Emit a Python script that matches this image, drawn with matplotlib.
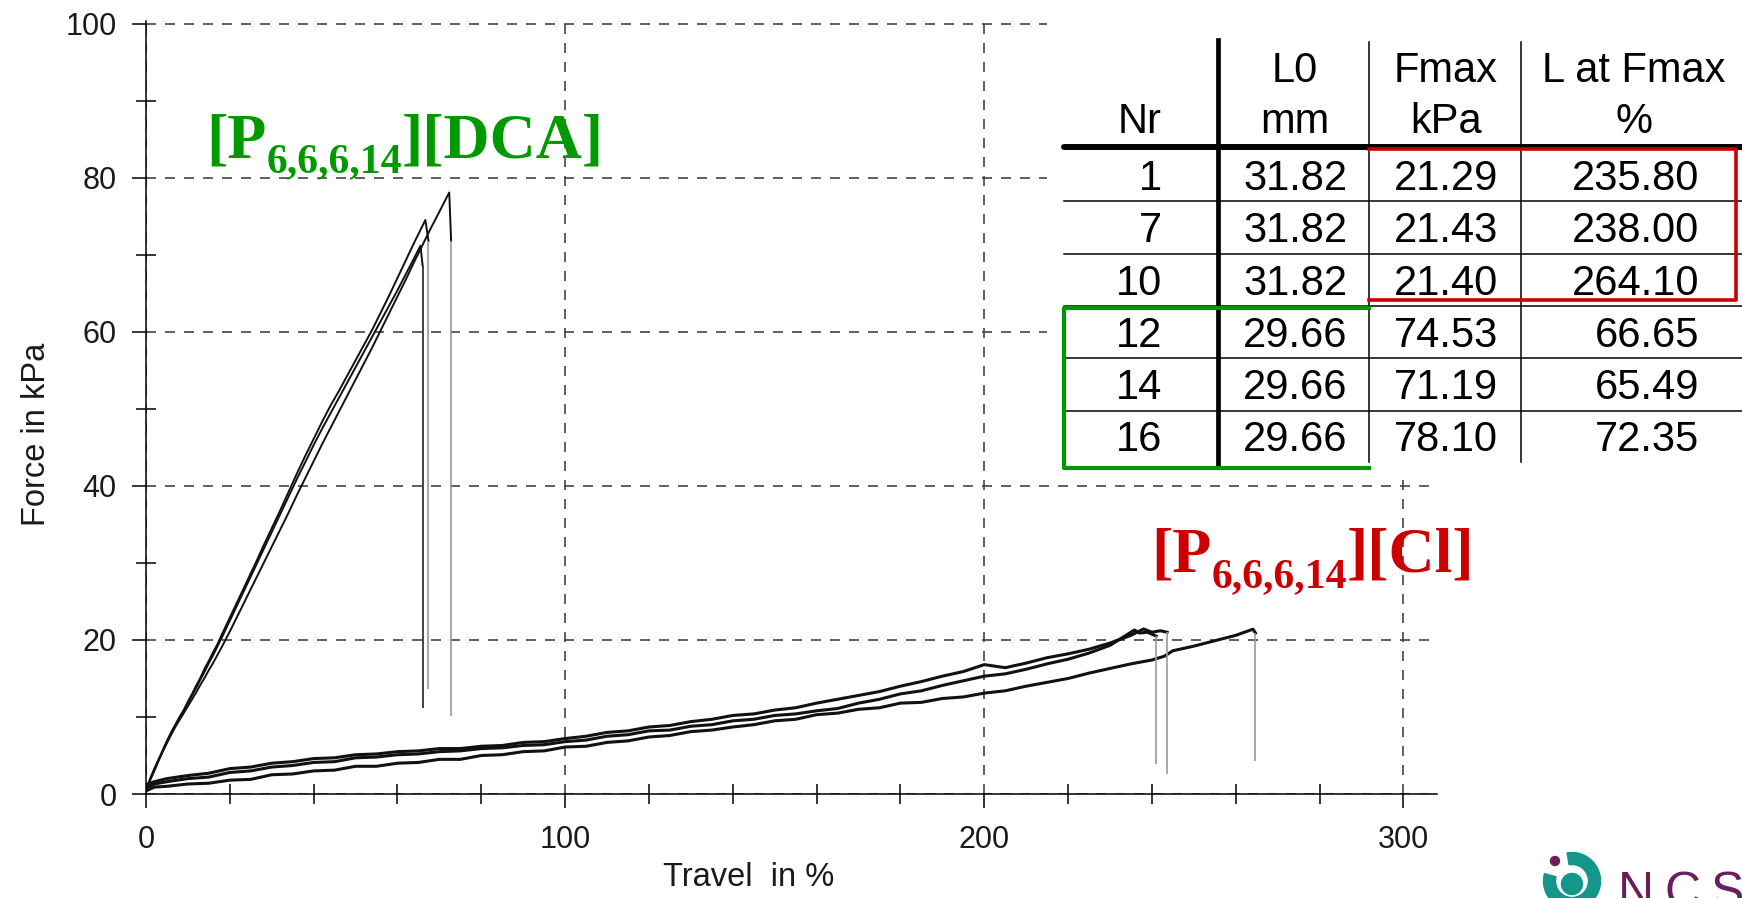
import matplotlib
matplotlib.use('Agg')
import matplotlib.pyplot as plt
from matplotlib.ticker import MultipleLocator
from matplotlib.patches import Rectangle, Circle, Wedge

plt.rcParams['font.family'] = ['Liberation Sans', 'DejaVu Sans']

# table of results
nr = [1, 7, 10, 12, 14, 16]
l0_mm = [31.82, 31.82, 31.82, 29.66, 29.66, 29.66]
fmax_kpa = [21.29, 21.43, 21.40, 74.53, 71.19, 78.10]
l_at_fmax = [235.80, 238.00, 264.10, 66.65, 65.49, 72.35]

# [P6,6,6,14][DCA] samples 12, 14, 16
dca12_x = [0, 1, 2, 3, 4, 5, 6, 7, 8, 9, 10, 11, 12, 13, 14, 15, 16, 17, 18, 20, 22, 24, 26, 28, 30,
           32, 34, 36, 38, 40, 42, 44, 46, 48, 50, 52, 54, 56, 58, 60, 62, 64, 66, 66.65, 67.4]
dca12_y = [0.4, 1.9, 3.2, 4.4, 5.7, 6.9, 8.0, 9.0, 10.0, 10.9, 12.0, 13.0, 14.1, 15.1, 16.3, 17.3, 18.4,
           19.4, 20.6, 22.9, 25.2, 27.5, 29.8, 32.2, 34.5, 36.8, 39.2, 41.6, 43.9, 46.1, 48.3, 50.4, 52.3,
           54.3, 56.3, 58.3, 60.3, 62.5, 64.7, 67.0, 69.3, 71.6, 73.8, 74.53, 71.8]
dca14_x = [0, 1, 2, 3, 4, 5, 6, 7, 8, 9, 10, 11, 12, 13, 14, 15, 16, 17, 18, 20, 22, 24, 26, 28, 30,
           32, 34, 36, 38, 40, 42, 44, 46, 48, 50, 52, 54, 56, 58, 60, 62, 64, 65.49, 66.0]
dca14_y = [0.6, 2.0, 3.3, 4.5, 5.6, 6.8, 7.9, 8.9, 9.9, 10.8, 11.8, 12.8, 13.8, 14.9, 15.9, 17.0, 18.0,
           19.1, 20.2, 22.5, 24.8, 27.1, 29.4, 31.7, 34.0, 36.3, 38.6, 40.9, 43.1, 45.3, 47.4, 49.4, 51.4,
           53.4, 55.4, 57.4, 59.4, 61.4, 63.4, 65.4, 67.5, 69.6, 71.19, 68.6]
dca16_x = [0, 1, 2, 3, 4, 5, 6, 7, 8, 9, 10, 11, 12, 13, 14, 15, 16, 17, 18, 20, 22, 24, 26, 28, 30,
           32, 34, 36, 38, 40, 42, 44, 46, 48, 50, 52, 54, 56, 58, 60, 62, 64, 66, 68, 70, 72.35, 72.8]
dca16_y = [0.5, 1.8, 3.0, 4.3, 5.5, 6.6, 7.7, 8.7, 9.6, 10.5, 11.4, 12.3, 13.2, 14.2, 15.1, 16.1, 17.0,
           18.0, 19.0, 21.1, 23.3, 25.5, 27.7, 29.9, 32.1, 34.3, 36.5, 38.8, 41.0, 43.2, 45.4, 47.5, 49.6,
           51.7, 53.8, 55.9, 58.0, 60.2, 62.4, 64.6, 66.8, 69.1, 71.3, 73.5, 75.6, 78.10, 71.8]

# [P6,6,6,14][Cl] samples 1, 7, 10
cl_x = [0, 2, 5, 10, 15, 20, 25, 30, 35, 40, 45, 50, 55, 60, 65, 70, 75, 80, 85, 90, 95, 100,
        105, 110, 115, 120, 125, 130, 135, 140, 145, 150, 155, 160, 165, 170, 175, 180, 185, 190,
        195, 200, 205, 210, 215, 220, 225, 230]
cl1_y = [0.8, 1.3, 1.6, 2.0, 2.2, 2.8, 3.0, 3.5, 3.7, 4.1, 4.2, 4.7, 4.8, 5.1, 5.2, 5.5, 5.6, 5.9,
         6.0, 6.3, 6.4, 6.8, 7.0, 7.5, 7.7, 8.2, 8.3, 8.8, 9.0, 9.5, 9.7, 10.2, 10.4, 10.8, 11.1,
         11.8, 12.3, 13.0, 13.4, 14.1, 14.7, 15.3, 15.6, 16.2, 16.9, 17.5, 18.3, 19.3]
cl1_tail_x = [235.8, 237, 239, 241.0]
cl1_tail_y = [21.29, 20.9, 21.0, 20.5]
cl7_y = [1.2, 1.6, 2.0, 2.4, 2.7, 3.3, 3.5, 4.0, 4.2, 4.6, 4.7, 5.1, 5.2, 5.5, 5.6, 5.9, 5.9, 6.2,
         6.3, 6.7, 6.8, 7.2, 7.5, 8.0, 8.2, 8.7, 8.9, 9.4, 9.7, 10.2, 10.4, 10.9, 11.2, 11.8, 12.3,
         12.8, 13.3, 14.0, 14.6, 15.3, 15.9, 16.8, 16.4, 17.0, 17.7, 18.2, 18.8, 19.6]
cl7_tail_x = [235, 238.0, 240, 242, 243.6]
cl7_tail_y = [20.6, 21.43, 21.0, 21.2, 21.0]
cl10_y = [0.4, 0.9, 1.0, 1.3, 1.4, 1.8, 1.9, 2.5, 2.6, 3.0, 3.1, 3.6, 3.6, 4.0, 4.1, 4.5, 4.5, 5.0,
          5.1, 5.5, 5.6, 6.1, 6.2, 6.7, 6.9, 7.4, 7.6, 8.1, 8.3, 8.7, 9.0, 9.5, 9.7, 10.3, 10.5,
          11.0, 11.2, 11.8, 11.9, 12.4, 12.6, 13.1, 13.4, 14.0, 14.5, 15.0, 15.7, 16.3]
cl10_tail_x = [235, 240, 243, 245, 250, 255, 260, 264.1, 264.7]
cl10_tail_y = [16.9, 17.4, 17.9, 18.6, 19.2, 19.9, 20.6, 21.40, 20.9]

# sample rupture (drop after break)
break_x = [67.4, 66.0, 72.8, 241.0, 243.6, 264.7]
break_top = [71.8, 68.6, 71.8, 20.5, 21.0, 20.9]
break_bottom = [13.6, 11.2, 10.1, 3.9, 2.6, 4.3]
break_color = ['#9a9a9a', '#222222', '#9a9a9a', '#9a9a9a', '#9a9a9a', '#9a9a9a']

fig = plt.figure(figsize=(17.42, 8.98), dpi=100)
ax = fig.add_axes([0.0838, 0.1158, 0.7411, 0.8603])

ax.plot(dca12_x, dca12_y, color='#111111', lw=1.4)
ax.plot(dca14_x, dca14_y, color='#111111', lw=1.4)
ax.plot(dca16_x, dca16_y, color='#111111', lw=1.4)
ax.plot(cl_x + cl1_tail_x, cl1_y + cl1_tail_y, color='#111111', lw=2.2)
ax.plot(cl_x + cl7_tail_x, cl7_y + cl7_tail_y, color='#111111', lw=2.2)
ax.plot(cl_x + cl10_tail_x, cl10_y + cl10_tail_y, color='#111111', lw=2.2)
ax.vlines(break_x, break_bottom, break_top, colors=break_color, lw=1.2)

ax.set_xlim(0, 308)
ax.set_ylim(0, 100.3)
ax.spines['top'].set_visible(False)
ax.spines['right'].set_visible(False)
ax.spines['left'].set_linewidth(1.1)
ax.spines['bottom'].set_linewidth(1.1)
ax.xaxis.set_major_locator(MultipleLocator(100))
ax.xaxis.set_minor_locator(MultipleLocator(20))
ax.yaxis.set_major_locator(MultipleLocator(20))
ax.yaxis.set_minor_locator(MultipleLocator(10))
ax.tick_params(which='major', direction='out', length=10, width=1.1, labelsize=22, labelcolor='#1a1a1a')
ax.tick_params(which='minor', direction='inout', length=15, width=1.1)
ax.tick_params(axis='x', which='major', pad=12)
ax.tick_params(axis='y', which='major', pad=11)
ax.grid(which='major', linestyle=(0, (6, 5.4)), color='#444444', lw=1.2)
ax.set_axisbelow(True)

ax.set_xlabel('Travel  in %', fontsize=23.5, color='#1a1a1a')
ax.xaxis.set_label_coords(0.467, -0.088)
ax.set_ylabel('Force in kPa', fontsize=23.5, color='#1a1a1a')
ax.yaxis.set_label_coords(-0.073, 0.465)

# overlay in pixel units for the table, labels and logo
ov = fig.add_axes([0, 0, 1, 1])
ov.set_xlim(0, 1742)
ov.set_ylim(898, 0)
ov.axis('off')

ov.add_patch(Rectangle((1047, 0), 695, 476, facecolor='white', edgecolor='none'))

col_c = [1140, 1295, 1446, 1634]
ov.text(col_c[0], 133, 'Nr', ha='center', va='baseline', fontsize=30)
ov.text(col_c[1], 82, 'L0', ha='center', va='baseline', fontsize=30)
ov.text(col_c[1], 133, 'mm', ha='center', va='baseline', fontsize=30)
ov.text(col_c[2], 82, 'Fmax', ha='center', va='baseline', fontsize=30)
ov.text(col_c[2], 133, 'kPa', ha='center', va='baseline', fontsize=30)
ov.text(col_c[3], 82, 'L at Fmax', ha='center', va='baseline', fontsize=30)
ov.text(col_c[3], 133, '%', ha='center', va='baseline', fontsize=30)

row_h = 52.3
for i in range(len(nr)):
    yb = 147 + row_h * (i + 1) - 9.3
    ov.text(1162, yb, str(nr[i]), ha='right', va='baseline', fontsize=30)
    ov.text(col_c[1], yb, '%.2f' % l0_mm[i], ha='center', va='baseline', fontsize=30)
    ov.text(col_c[2], yb, '%.2f' % fmax_kpa[i], ha='center', va='baseline', fontsize=30)
    ov.text(1699, yb, '%.2f' % l_at_fmax[i], ha='right', va='baseline', fontsize=30)
    if i < len(nr) - 1:
        yl = 147 + row_h * (i + 1) + 2
        ov.plot([1064, 1742], [yl, yl], color='black', lw=1.1)

ov.plot([1064, 1742], [147, 147], color='black', lw=4.3, solid_capstyle='round')
ov.plot([1218, 1218], [40, 465], color='black', lw=3.4)
ov.plot([1369, 1369], [42, 462], color='black', lw=1.1)
ov.plot([1521, 1521], [42, 462], color='black', lw=1.1)
ov.plot([1369, 1736, 1736, 1369], [149, 149, 300, 300], color='#cc0000', lw=2.6)
ov.plot([1369, 1064, 1064, 1369], [308, 308, 468, 468], color='#009a00', lw=3.0)

renderer = fig.canvas.get_renderer()


def chem_label(x, y, anion, color):
    parts = [('[P', 46, 0), ('6,6,6,14', 30, 15), (']' + anion, 46, 0)]
    for s, size, dy in parts:
        t = ov.text(x, y + dy, s, fontsize=size, color=color, fontweight='bold',
                    family='Liberation Serif', va='baseline', ha='left')
        x += t.get_window_extent(renderer).width


chem_label(206, 157, '[DCA]', '#009a00')
chem_label(1151, 572, '[Cl]', '#cc0000')

# NCS logo, cut by the bottom edge as in the source
teal = '#14968a'
purple = '#6b1d5c'
ov.add_patch(Wedge((1572, 881), 28.5, 260, 555, width=12, color=teal))
ov.add_patch(Circle((1572, 884), 10.5, color=teal))
ov.add_patch(Circle((1555, 861), 4.5, color=purple))
for letter, lx in zip('NCS', [1618, 1664, 1711]):
    ov.text(lx, 907, letter, fontsize=36, color=purple, va='baseline', ha='left')

fig.savefig('out.png', dpi=100)
plt.close(fig)
